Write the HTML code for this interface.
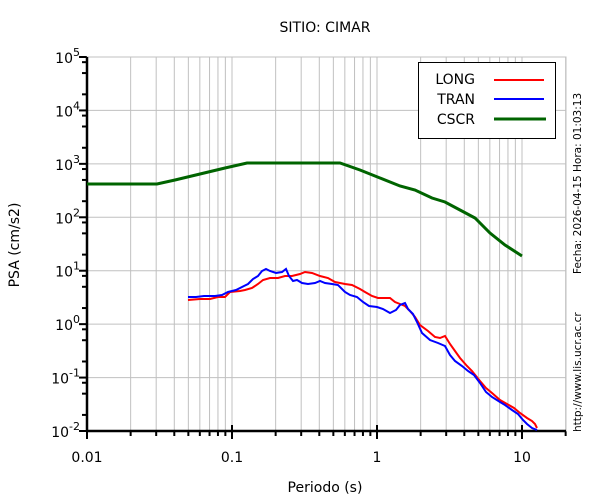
<!DOCTYPE html>
<html><head><meta charset="utf-8"><style>
html,body{margin:0;padding:0;background:#fff;}
svg{display:block;font-family:"DejaVu Sans","Liberation Sans",sans-serif;}
</style></head><body>
<svg width="600" height="500" viewBox="0 0 600 500" xmlns="http://www.w3.org/2000/svg">
<g id="grid" stroke="#c0c0c0" stroke-width="1" fill="none"></g>
<g id="ticks" stroke="#000" stroke-width="2" fill="none"></g>
<rect x="87" y="57" width="479" height="374" fill="none" stroke="#c0c0c0" stroke-width="1"/>
<line x1="87" y1="57" x2="87" y2="432" stroke="#000" stroke-width="2.5"/>
<line x1="86" y1="431" x2="566" y2="431" stroke="#000" stroke-width="2.5"/>
<polyline fill="none" stroke="#006400" stroke-width="3" points="87,184 157,184 175,180 200,174 225,168 247,163 340,163 360,170 380,178 400,186 415,190 432,198 445,202 460,210 475,218 490,233 505,245 522,256"/>
<polyline fill="none" stroke="#f00" stroke-width="2" points="188,300 200,299 210,299 218,297 225,297 230,292 240,291 245,290 252,288 258,284 263,280 270,278 278,278 285,276 292,276 300,274 305,272 312,273 320,276 328,278 335,282 345,284 352,285 360,289 365,292 372,296 378,298 385,298 390,298 395,302 400,304 405,306 410,311 415,317 420,325 428,331 435,337 440,338 445,336 450,344 455,351 460,358 467,366 472,371 480,381 486,388 492,393 500,400 507,404 514,408 520,413 527,418 532,421 535,424 537,428"/>
<polyline fill="none" stroke="#00f" stroke-width="2" points="188,297 196,297 204,296 215,296 222,295 228,292 236,290 244,286 248,284 253,279 258,276 262,271 266,269 270,271 276,273 282,272 286,269 289,276 293,281 297,280 302,283 308,284 315,283 320,281 325,283 332,284 338,285 345,292 350,295 357,297 363,302 369,306 377,307 383,309 390,313 396,310 400,305 405,303 408,309 413,314 417,322 422,333 430,340 438,343 445,346 450,355 455,361 462,366 468,371 474,375 480,383 486,392 492,397 500,402 505,405 512,410 518,414 523,420 527,424 532,428 537,430"/>
<rect x="418.5" y="62.5" width="137" height="76" fill="#fff" stroke="#000" stroke-width="1"/>
<g font-size="14" fill="#000" text-anchor="end">
<text x="475" y="84">LONG</text>
<text x="475" y="104">TRAN</text>
<text x="475" y="124">CSCR</text>
</g>
<line x1="494" y1="80" x2="544" y2="80" stroke="#f00" stroke-width="2"/>
<line x1="494" y1="99" x2="544" y2="99" stroke="#00f" stroke-width="2"/>
<line x1="494" y1="119" x2="546" y2="119" stroke="#006400" stroke-width="3"/>
<text x="325" y="32" font-size="14" text-anchor="middle">SITIO: CIMAR</text>
<text x="325" y="492" font-size="14" text-anchor="middle">Periodo (s)</text>
<text transform="translate(19,245) rotate(-90)" font-size="14" text-anchor="middle">PSA (cm/s2)</text>
<text transform="translate(581,274) rotate(-90)" font-size="10.5" text-anchor="start">Fecha: 2026-04-15  Hora: 01:03:13</text>
<text transform="translate(581,432) rotate(-90)" font-size="10.5" text-anchor="start">http://www.lis.ucr.ac.cr</text>
<g font-size="14" text-anchor="middle" id="xl">
<text x="87" y="462">0.01</text><text x="232" y="462">0.1</text><text x="377" y="462">1</text><text x="522" y="462">10</text>
</g>
<g font-size="14" text-anchor="end" id="yl"></g>
<script>
var ns="http://www.w3.org/2000/svg";
var g=document.getElementById('grid'),t=document.getElementById('ticks'),yl=document.getElementById('yl');
function L(p,x1,y1,x2,y2){var l=document.createElementNS(ns,'line');l.setAttribute('x1',x1);l.setAttribute('y1',y1);l.setAttribute('x2',x2);l.setAttribute('y2',y2);p.appendChild(l);}
function X(v){return 87+145*(Math.log10(v)+2);}
function Y(e){return 431-53.43*(e+2);}
for(var d=-2;d<=1;d++){for(var m=1;m<=9;m++){var v=m*Math.pow(10,d);var x=X(v);if(x>566)break;
 if(m==1){L(g,x,57,x,431);L(t,x,425,x,439);}else{L(g,x,57,x,431);L(t,x,431,x,436);}}}
for(var e=-2;e<=5;e++){var y=Y(e);L(g,87,y,566,y);L(t,79,y,87,y);
 if(e<5){[2,5,8].forEach(function(m){var yy=Y(e+Math.log10(m));L(t,82,yy,87,yy);});}
 var tx=document.createElementNS(ns,'text');tx.setAttribute('x',68);tx.setAttribute('y',y+6);
 tx.textContent='10';var s=document.createElementNS(ns,'tspan');s.setAttribute('dy',-7);s.setAttribute('font-size','11');s.textContent=String(e).replace('-','-');tx.appendChild(s);
 tx.setAttribute('x',80);tx.setAttribute('text-anchor','end');yl.appendChild(tx);}
</script>
</svg>
</body></html>
